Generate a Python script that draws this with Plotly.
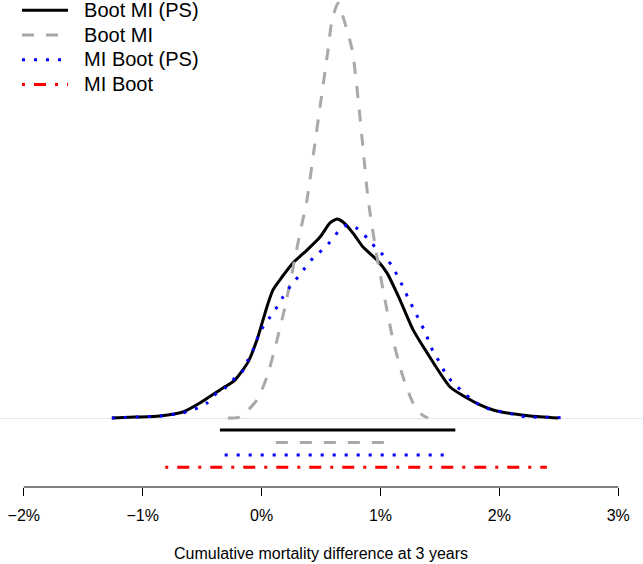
import plotly.graph_objects as go

# ---------------- data ----------------
# x in percent, density per percent
boot_mi_ps_x = [-1.259, -1.065, -0.855, -0.662, -0.519, -0.350, -0.224, -0.114, -0.039, 0.045, 0.096,
                0.172, 0.264, 0.382, 0.492, 0.576, 0.635, 0.685, 0.769, 0.854, 0.971, 1.056, 1.165,
                1.275, 1.393, 1.586, 1.729, 1.838, 1.948, 2.066, 2.260, 2.495]
boot_mi_ps_y = [0.000, 0.004, 0.009, 0.026, 0.065, 0.122, 0.165, 0.243, 0.339, 0.483, 0.557,
                0.613, 0.674, 0.730, 0.787, 0.848, 0.865, 0.852, 0.804, 0.743, 0.687, 0.630, 0.513,
                0.383, 0.283, 0.135, 0.087, 0.057, 0.035, 0.022, 0.009, 0.000]

boot_mi_x = [-0.283, -0.182, -0.039, 0.045, 0.130, 0.197, 0.256, 0.323, 0.382, 0.441, 0.500, 0.559,
             0.593, 0.643, 0.694, 0.763, 0.813, 0.855, 0.897, 0.971, 1.022, 1.106, 1.190, 1.274,
             1.342, 1.401]
boot_mi_y = [0.000, 0.004, 0.078, 0.178, 0.339, 0.483, 0.630, 0.804, 0.948, 1.165, 1.383, 1.600,
             1.730, 1.804, 1.730, 1.600, 1.383, 1.165, 0.948, 0.700, 0.557, 0.339, 0.178, 0.065,
             0.017, 0.000]

mi_boot_ps_x = [-1.259, -1.065, -0.855, -0.662, -0.561, -0.460, -0.375, -0.308, -0.241, -0.165, -0.114,
                -0.072, -0.030, 0.012, 0.071, 0.130, 0.180, 0.239, 0.306, 0.365, 0.433, 0.508, 0.576,
                0.643, 0.719, 0.811, 0.887, 0.955, 1.022, 1.098, 1.148, 1.190, 1.232, 1.275, 1.325,
                1.367, 1.410, 1.444, 1.502, 1.544, 1.612, 1.696, 1.772, 1.864, 1.948, 2.066, 2.175,
                2.260, 2.369, 2.571]
mi_boot_ps_y = [0.000, 0.004, 0.009, 0.022, 0.039, 0.065, 0.109, 0.130, 0.165, 0.200, 0.252,
                0.296, 0.352, 0.396, 0.439, 0.483, 0.526, 0.570, 0.613, 0.652, 0.696, 0.730, 0.765,
                0.809, 0.839, 0.822, 0.783, 0.743, 0.709, 0.661, 0.613, 0.570, 0.522, 0.478, 0.426,
                0.383, 0.330, 0.287, 0.239, 0.196, 0.152, 0.113, 0.078, 0.048, 0.035, 0.022, 0.009,
                0.004, 0.004, 0.000]

# 95% intervals (percent)
series_names = ["Boot MI (PS)", "Boot MI", "MI Boot (PS)", "MI Boot"]
interval_low = [-0.35, 0.12, -0.31, -0.81]
interval_high = [1.63, 1.04, 1.54, 2.40]

tick_values = [-2, -1, 0, 1, 2, 3]
tick_labels = ["\u22122%", "\u22121%", "0%", "1%", "2%", "3%"]
x_title = "Cumulative mortality difference at 3 years"

# ---------------- styling ----------------
colors = ["black", "#a9a9a9", "#0000ff", "#ff0000"]
dashes = ["solid", "12px,12px", "3px,9px", "3px,9px,12px,9px"]
interval_levels = [-0.052, -0.107, -0.161, -0.214]
FONT = "Liberation Sans, Arial, Helvetica, sans-serif"


def legend_label(name):
    return '<span style="font-size:20px">\u00a0\u00a0' + name + '</span>'


fig = go.Figure()

curves = [(boot_mi_ps_x, boot_mi_ps_y), (boot_mi_x, boot_mi_y), (mi_boot_ps_x, mi_boot_ps_y)]
for i, (cx, cy) in enumerate(curves):
    fig.add_trace(go.Scatter(
        x=cx, y=cy, mode="lines", name=legend_label(series_names[i]),
        legendgroup=series_names[i],
        line=dict(color=colors[i], width=3, dash=dashes[i], shape="spline", smoothing=0.6),
        showlegend=True, hoverinfo="skip"))

for i in range(4):
    fig.add_trace(go.Scatter(
        x=[interval_low[i], interval_high[i]], y=[interval_levels[i]] * 2, mode="lines",
        name=legend_label(series_names[i]), legendgroup=series_names[i],
        line=dict(color=colors[i], width=3, dash=dashes[i]),
        showlegend=(i == 3), hoverinfo="skip"))

# R-style axis line spanning only the tick range
fig.add_shape(type="line", xref="x", yref="paper", x0=tick_values[0], x1=tick_values[-1],
              y0=0, y1=0, line=dict(color="black", width=1))

fig.update_layout(
    width=643, height=564,
    margin=dict(l=0, r=1, t=0, b=77, pad=0, autoexpand=False),
    paper_bgcolor="white", plot_bgcolor="white",
    font=dict(family=FONT, color="black", size=16),
    showlegend=True,
    legend=dict(x=17 / 642, y=1 + 7 / 487, xanchor="left", yanchor="top",
                bgcolor="rgba(0,0,0,0)", borderwidth=0,
                font=dict(size=16.7, family=FONT), traceorder="normal", itemwidth=46,
                tracegroupgap=0),
    xaxis=dict(range=[-2.2, 3.2], tickvals=tick_values, ticktext=tick_labels,
               ticks="outside", ticklen=8, tickwidth=1, tickcolor="black",
               showgrid=False, zeroline=False, showline=False, automargin=False,
               ticklabelstandoff=6,
               tickfont=dict(size=16, family=FONT),
               title=dict(text=x_title, font=dict(size=16, family=FONT), standoff=24)),
    yaxis=dict(range=[-0.3, 1.8174], visible=True, showticklabels=False, ticks="",
               showgrid=False, showline=False, zeroline=True, zerolinecolor="#e6e6e6",
               zerolinewidth=1, automargin=False),
)

fig.write_html("out.html", config={"displayModeBar": False},
               post_script="document.body.style.margin='0';")
